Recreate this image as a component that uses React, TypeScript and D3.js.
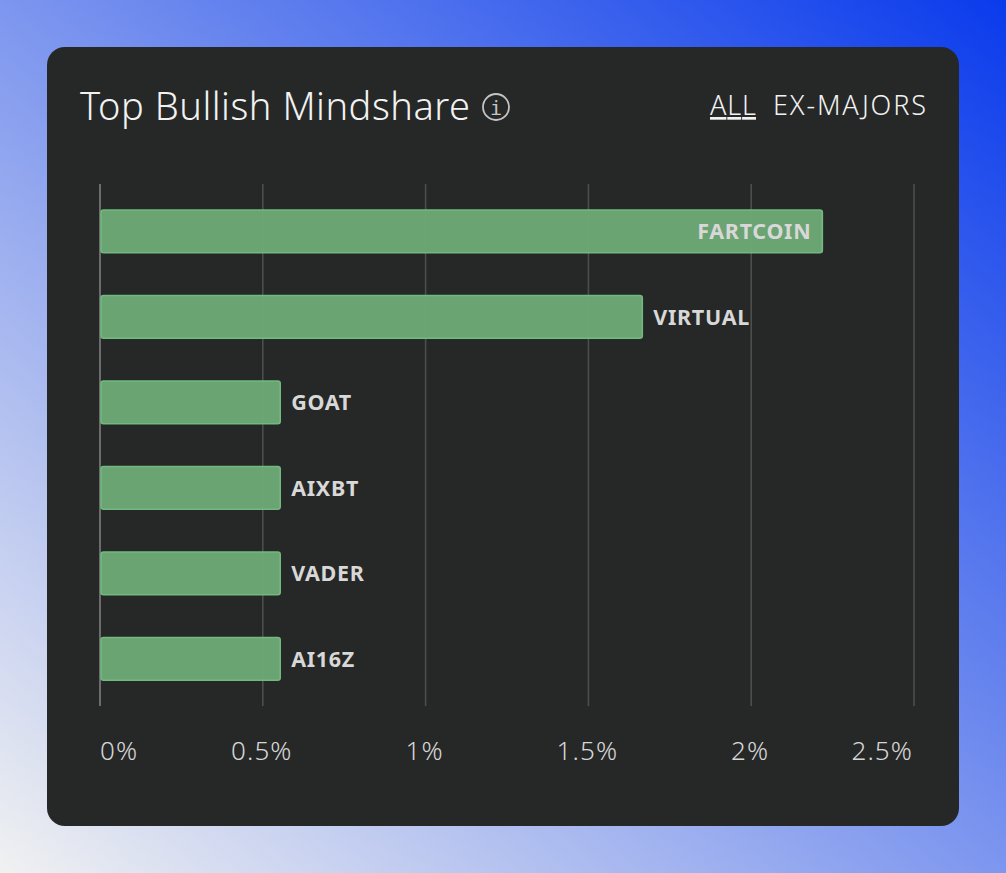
import React, { useEffect, useRef } from 'react'
import * as d3 from 'd3'

const tokens = ['FARTCOIN', 'VIRTUAL', 'GOAT', 'AIXBT', 'VADER', 'AI16Z']
const shares = [2.22, 1.667, 0.555, 0.555, 0.555, 0.555]
const tickValues = [0, 0.5, 1, 1.5, 2, 2.5]
const tickLabels = ['0%', '0.5%', '1%', '1.5%', '2%', '2.5%']

const WIDTH = 1006
const HEIGHT = 873
const FONT = '"Noto Sans", sans-serif'

const App: React.FC = () => {
    const svgRef = useRef<SVGSVGElement | null>(null)

    useEffect(() => {
        if (!svgRef.current) return
        const svg = d3.select(svgRef.current)
        svg.selectAll('*').remove()

        // page background, same geometry as css "to top right"
        const norm = Math.hypot(WIDTH, HEIGHT)
        const half = (WIDTH * HEIGHT) / norm
        const dx = (HEIGHT / norm) * half
        const dy = (WIDTH / norm) * half
        const grad = svg
            .append('defs')
            .append('linearGradient')
            .attr('id', 'bg')
            .attr('gradientUnits', 'userSpaceOnUse')
            .attr('x1', WIDTH / 2 - dx)
            .attr('y1', HEIGHT / 2 + dy)
            .attr('x2', WIDTH / 2 + dx)
            .attr('y2', HEIGHT / 2 - dy)
        grad.append('stop').attr('offset', 0).attr('stop-color', '#f0f1f1')
        grad.append('stop').attr('offset', 1).attr('stop-color', '#0a3bec')
        svg.append('rect').attr('width', WIDTH).attr('height', HEIGHT).attr('fill', 'url(#bg)')

        svg.append('rect')
            .attr('x', 47)
            .attr('y', 47)
            .attr('width', 912)
            .attr('height', 779)
            .attr('rx', 18)
            .attr('fill', '#262827')

        // header
        svg.append('text')
            .attr('x', 80)
            .attr('y', 120)
            .attr('font-family', FONT)
            .attr('font-size', 38)
            .attr('font-weight', 300)
            .attr('textLength', 390)
            .attr('fill', '#f2f2f2')
            .text('Top Bullish Mindshare')

        svg.append('circle')
            .attr('cx', 496)
            .attr('cy', 107)
            .attr('r', 13)
            .attr('fill', 'none')
            .attr('stroke', '#c4c4c4')
            .attr('stroke-width', 1.8)
        svg.append('text')
            .attr('x', 496)
            .attr('y', 115)
            .attr('text-anchor', 'middle')
            .attr('font-family', '"DejaVu Sans Mono", monospace')
            .attr('font-size', 20)
            .attr('fill', '#c4c4c4')
            .text('i')

        svg.append('text')
            .attr('x', 710)
            .attr('y', 115)
            .attr('font-family', FONT)
            .attr('font-size', 27)
            .attr('font-weight', 300)
            .attr('textLength', 46)
            .attr('fill', '#f2f2f2')
            .attr('text-decoration', 'underline')
            .text('ALL')
        svg.append('text')
            .attr('x', 773)
            .attr('y', 115)
            .attr('font-family', FONT)
            .attr('font-size', 27)
            .attr('font-weight', 300)
            .attr('textLength', 153)
            .attr('fill', '#f2f2f2')
            .text('EX-MAJORS')

        const x = d3.scaleLinear().domain([0, 2.5]).range([99.5, 913.5])
        const y = d3
            .scaleBand<string>()
            .domain(tokens)
            .range([188.6, 701.6])
            .paddingInner(0.5)
            .paddingOuter(0.25)

        // grid lines and tick labels
        const axis = svg
            .append('g')
            .attr('transform', 'translate(0,706)')
            .call(
                d3
                    .axisBottom(x)
                    .tickValues(tickValues)
                    .tickSize(-522)
                    .tickPadding(36)
                    .tickFormat((_, i) => tickLabels[i])
            )
        axis.select('.domain').remove()
        axis.selectAll('line')
            .attr('stroke', (d) => (d === 0 ? '#7d7d7d' : '#4c4d4d'))
            .attr('stroke-width', 1.6)
        axis.selectAll('text')
            .attr('font-family', FONT)
            .attr('font-size', 26)
            .attr('font-weight', 300)
            .attr('letter-spacing', 1.1)
            .attr('fill', '#d6d6d6')
            .attr('text-anchor', (d) => (d === 0 ? 'start' : d === 2.5 ? 'end' : 'middle'))
            .attr('dx', (d) => (d === 2.5 ? -1 : d === 0 ? 0 : -1))

        // bars
        svg.append('g')
            .selectAll('rect')
            .data(tokens)
            .join('rect')
            .attr('x', x(0) + 1.5)
            .attr('y', (d) => y(d) as number)
            .attr('width', (_, i) => x(shares[i]) - x(0) - 1.5)
            .attr('height', y.bandwidth())
            .attr('rx', 2.5)
            .attr('fill', '#6fab77')
            .attr('fill-opacity', 0.95)
            .attr('stroke', '#72b97f')
            .attr('stroke-width', 1.6)

        // labels sit inside the bar when it is too long to fit them outside
        svg.append('g')
            .selectAll('text')
            .data(tokens)
            .join('text')
            .attr('x', (_, i) => (i === 0 ? x(shares[i]) - 11 : x(shares[i]) + 11))
            .attr('y', (d) => (y(d) as number) + y.bandwidth() / 2 + 8)
            .attr('text-anchor', (_, i) => (i === 0 ? 'end' : 'start'))
            .attr('font-family', FONT)
            .attr('font-size', 21.5)
            .attr('font-weight', 700)
            .attr('letter-spacing', 0.7)
            .attr('fill', '#d8d8d8')
            .text((d) => d)
    }, [])

    return (
        <svg
            ref={svgRef}
            width={WIDTH}
            height={HEIGHT}
            style={{ position: 'absolute', left: 0, top: 0, display: 'block' }}
        />
    )
}

export default App
